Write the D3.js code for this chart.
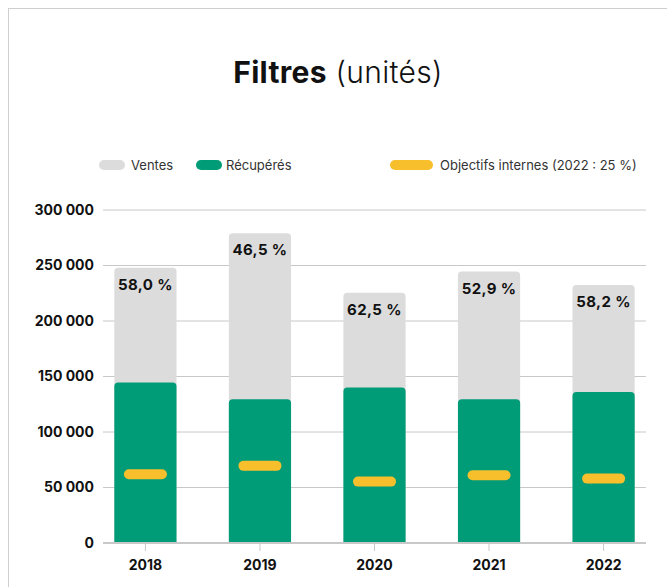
<!DOCTYPE html>
<html>
<head>
<meta charset="utf-8">
<script src="https://cdn.jsdelivr.net/npm/d3@7"></script>
<style>
  html, body { margin: 0; padding: 0; background: #fff; }
  svg { display: block; font-family: Inter, "Noto Sans", sans-serif; }
</style>
</head>
<body>
<svg id="chart" width="667" height="587"></svg>
<script>
const years = ["2018", "2019", "2020", "2021", "2022"];
const ventes = [248000, 279000, 225500, 244500, 232500];
const recuperes = [144500, 129500, 140000, 129500, 136000];
const objectifs = [62000, 69500, 55300, 61000, 58000];
const pctLabels = ["58,0 %", "46,5 %", "62,5 %", "52,9 %", "58,2 %"];
const yTicks = [0, 50000, 100000, 150000, 200000, 250000, 300000];
const legendItems = [
  { label: "Ventes", color: "#dcdcdc" },
  { label: "Récupérés", color: "#009b77" },
  { label: "Objectifs internes (2022 : 25 %)", color: "#f8bf2c" }
];

const svg = d3.select("#chart");

// frame
svg.append("rect").attr("x", 8.5).attr("y", 8.5).attr("width", 700).attr("height", 620)
  .attr("fill", "none").attr("stroke", "#cfcfcf").attr("stroke-width", 1);

// title
const title = svg.append("text").attr("x", 338).attr("y", 83).attr("text-anchor", "middle")
  .attr("font-size", 30).attr("letter-spacing", 0.3).attr("fill", "#111");
title.append("tspan").attr("font-weight", 700).text("Filtres");
title.append("tspan").attr("font-weight", 300).text(" (unités)");

const x = d3.scaleBand().domain(years).range([104, 645]).paddingInner(0.457).paddingOuter(0.09);
const y = d3.scaleLinear().domain([0, 300000]).range([543, 210]);

const fmt = v => d3.format(",")(v).replace(/,/g, " ");

// gridlines
svg.append("g").selectAll("line").data(yTicks.filter(d => d > 0)).join("line")
  .attr("x1", 103).attr("x2", 646).attr("y1", d => y(d)).attr("y2", d => y(d))
  .attr("stroke", "#c8c8c8").attr("stroke-width", 1);

// y axis labels
const yAxis = d3.axisLeft(y).tickValues(yTicks).tickFormat(fmt).tickSize(0).tickPadding(9);
const gy = svg.append("g").attr("transform", "translate(103,0)").call(yAxis);
gy.select(".domain").remove();
gy.selectAll("text").attr("font-size", 14).attr("font-weight", 700).attr("fill", "#111")
  .attr("font-family", "Inter, 'Noto Sans', sans-serif");

// rounded-top bar path
function topRounded(x0, y0, w, h, r) {
  r = Math.min(r, h);
  return `M${x0},${y0 + h}V${y0 + r}Q${x0},${y0} ${x0 + r},${y0}H${x0 + w - r}Q${x0 + w},${y0} ${x0 + w},${y0 + r}V${y0 + h}Z`;
}

svg.append("g").selectAll("path").data(years).join("path")
  .attr("d", (d, i) => topRounded(x(d), y(ventes[i]), x.bandwidth(), y(0) - y(ventes[i]), 4))
  .attr("fill", "#dcdcdc");

svg.append("g").selectAll("path").data(years).join("path")
  .attr("d", (d, i) => topRounded(x(d), y(recuperes[i]), x.bandwidth(), y(0) - y(recuperes[i]), 4))
  .attr("fill", "#009b77");

// objective markers
svg.append("g").selectAll("line").data(years).join("line")
  .attr("x1", d => x(d) + x.bandwidth() / 2 - 16.5)
  .attr("x2", d => x(d) + x.bandwidth() / 2 + 16.5)
  .attr("y1", (d, i) => y(objectifs[i])).attr("y2", (d, i) => y(objectifs[i]))
  .attr("stroke", "#f8bf2c").attr("stroke-width", 10).attr("stroke-linecap", "round");

// percentage labels
svg.append("g").selectAll("text").data(years).join("text")
  .attr("x", d => x(d) + x.bandwidth() / 2)
  .attr("y", (d, i) => y(ventes[i]) + 22)
  .attr("text-anchor", "middle").attr("font-size", 15).attr("letter-spacing", 0.4)
  .attr("font-weight", 700).attr("fill", "#111")
  .text((d, i) => pctLabels[i]);

// x axis
svg.append("line").attr("x1", 103).attr("x2", 646).attr("y1", 543).attr("y2", 543)
  .attr("stroke", "#c8c8c8").attr("stroke-width", 2);
const xAxis = d3.axisBottom(x).tickSize(8).tickPadding(9);
const gx = svg.append("g").attr("transform", "translate(0,543)").call(xAxis);
gx.select(".domain").remove();
gx.selectAll("line").attr("stroke", "#c8c8c8");
gx.selectAll("text").attr("font-size", 14).attr("font-weight", 700).attr("fill", "#111")
  .attr("font-family", "Inter, 'Noto Sans', sans-serif");

// legend
const legendPos = [{ sx: 99, sw: 26, tx: 131 }, { sx: 196, sw: 26, tx: 226 }, { sx: 390, sw: 43, tx: 440 }];
const lg = svg.append("g");
legendItems.forEach((item, i) => {
  const p = legendPos[i];
  lg.append("rect").attr("x", p.sx).attr("y", 160).attr("width", p.sw).attr("height", 10)
    .attr("rx", 5).attr("fill", item.color);
  lg.append("text").attr("x", p.tx).attr("y", 170).attr("font-size", 13).attr("fill", "#333")
    .text(item.label);
});
</script>
</body>
</html>
